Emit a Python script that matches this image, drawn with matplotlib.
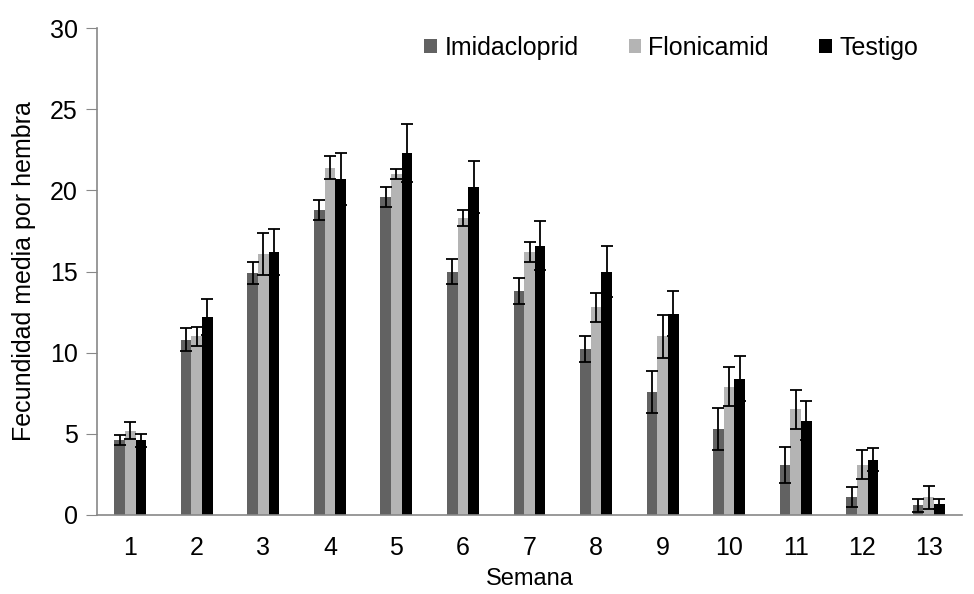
import numpy as np
import matplotlib.pyplot as plt

plt.rcParams['font.family'] = ['Liberation Sans', 'DejaVu Sans']

# datos: fecundidad media por hembra y error estandar por semana
semanas = [str(i) for i in range(1, 14)]
imidacloprid = [4.6, 10.8, 14.9, 18.8, 19.6, 15.0, 13.8, 10.2, 7.6, 5.3, 3.1, 1.1, 0.6]
imidacloprid_err = [0.3, 0.7, 0.7, 0.6, 0.6, 0.8, 0.8, 0.8, 1.3, 1.3, 1.1, 0.6, 0.4]
flonicamid = [5.2, 11.0, 16.1, 21.4, 21.0, 18.3, 16.2, 12.8, 11.0, 7.9, 6.5, 3.1, 1.1]
flonicamid_err = [0.5, 0.6, 1.3, 0.7, 0.3, 0.5, 0.6, 0.9, 1.3, 1.2, 1.2, 0.9, 0.7]
testigo = [4.6, 12.2, 16.2, 20.7, 22.3, 20.2, 16.6, 15.0, 12.4, 8.4, 5.8, 3.4, 0.7]
testigo_err = [0.4, 1.1, 1.4, 1.6, 1.8, 1.6, 1.5, 1.6, 1.4, 1.4, 1.2, 0.7, 0.3]

series = [
    ('Imidacloprid', imidacloprid, imidacloprid_err, '#626262'),
    ('Flonicamid', flonicamid, flonicamid_err, '#b4b4b4'),
    ('Testigo', testigo, testigo_err, '#000000'),
]

fig = plt.figure(figsize=(9.74, 5.94), dpi=100)
ax = fig.add_axes([97 / 974, (594 - 515) / 594, 865 / 974, (515 - 28) / 594])

x = np.arange(len(semanas))
ancho = 0.16
for i, (nombre, vals, err, color) in enumerate(series):
    ax.bar(x + (i - 1) * ancho, vals, ancho, color=color, label=nombre,
           yerr=err, capsize=4,
           error_kw=dict(ecolor='black', elinewidth=1.3, capthick=1.3))

ax.set_xlim(-0.5, len(semanas) - 0.5)
ax.set_ylim(0, 30)
ax.set_yticks(range(0, 31, 5))
ax.set_xticks(x)
ax.set_xticklabels(semanas)

for lado in ['top', 'right']:
    ax.spines[lado].set_visible(False)
for lado in ['left', 'bottom']:
    ax.spines[lado].set_color('#888888')
    ax.spines[lado].set_linewidth(1.2)
ax.tick_params(axis='y', length=8, color='#888888', labelsize=18, pad=6)
ax.tick_params(axis='x', length=0, labelsize=18, pad=15)

ax.set_xlabel('Semana', fontsize=17, labelpad=6)
ax.set_ylabel('Fecundidad media por hembra', fontsize=18, labelpad=10)

ax.legend(loc='upper right', frameon=False, fontsize=18, ncol=3,
          handlelength=0.5, handleheight=0.5, handletextpad=0.3,
          columnspacing=2.0, bbox_to_anchor=(0.975, 1.03))

fig.savefig('out.png', dpi=100)
